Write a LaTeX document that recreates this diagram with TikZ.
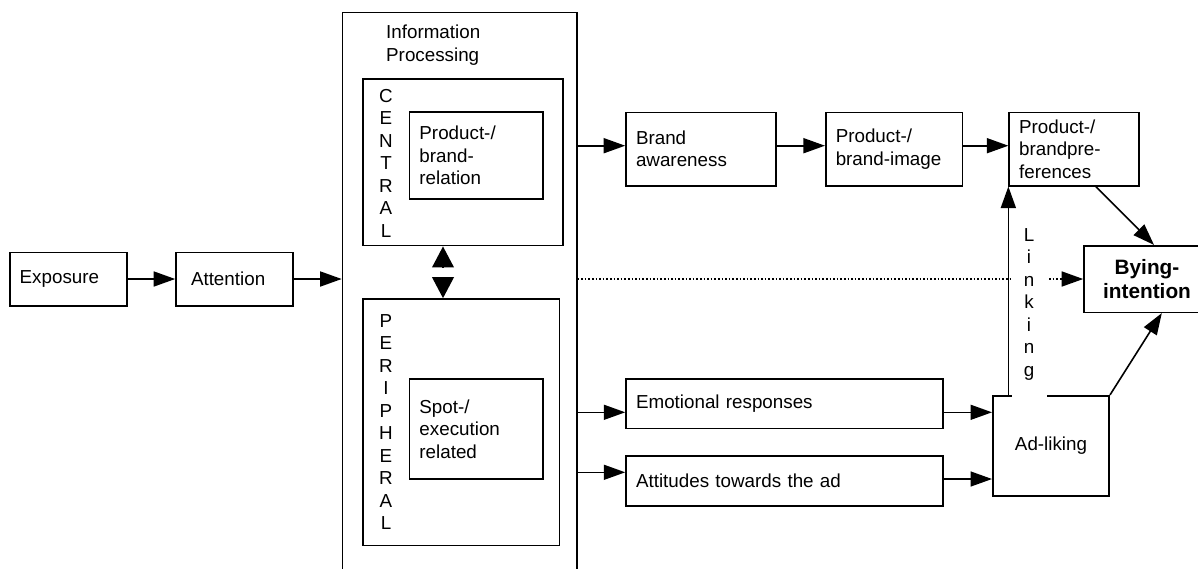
\documentclass[tikz,border=0pt]{standalone}
\usepackage{fontspec}
\setmainfont{Liberation Sans}
\usetikzlibrary{arrows.meta}

\begin{document}
\begin{tikzpicture}[
    x=1pt, y=-1pt,
    every node/.style={font=\fontsize{18.8}{22.5}\selectfont},
    box/.style={draw, line width=1.6pt, inner xsep=10pt, inner ysep=0pt, align=left},
    letters/.style={align=center, inner sep=0pt},
    arr/.style={line width=1.6pt, -{Triangle[length=21.5pt, width=15pt]}},
    bigtip/.style={line width=1.6pt, -{Triangle[length=21pt, width=21.7pt]}}
]

  \useasboundingbox (0,0) rectangle (1198,568);
  \clip (0,0) rectangle (1198,568);

  % left part
  \node[box, text width=97pt, minimum height=53.4pt] (expo) at (68.2,279) {Exposure};
  \node[box, inner xsep=15pt, text width=87pt, minimum height=53.4pt] (atten) at (234.5,279) {Attention};

  % information processing
  \node[box, minimum width=234.2pt, minimum height=567.4pt] (infoproc) at (459.6,296) {};
  \node[anchor=west, align=left, inner sep=0pt] (infotitle) at (386,45) {Information\\Processing};
  \node[box, minimum width=200.5pt, minimum height=166.7pt] (central) at (463,162.3) {};
  \node[letters] (centlbl) at (386,163) {C\\E\\N\\T\\R\\A\\L};
  \node[box, text width=113.5pt, minimum height=87pt] (prodrel) at (476.2,155.5) {Product-/\\brand-\\relation};
  \node[box, minimum width=196.7pt, minimum height=246.7pt] (periph) at (461.2,422.3) {};
  \node[letters] (periphlbl) at (386,422) {P\\E\\R\\I\\P\\H\\E\\R\\A\\L};
  \node[box, text width=113.5pt, minimum height=100pt] (spot) at (476.2,429) {Spot-/\\execution\\related};
  \coordinate (dmid) at (443,272.2);

  % upper row
  \node[box, text width=129.8pt, minimum height=73.4pt] (brandaw) at (700.9,149) {Brand\\awareness};
  \node[box, text width=116.9pt, minimum height=73.4pt] (brandimg) at (894.2,149) {Product-/\\brand-image};
  \node[box, text width=110.1pt, minimum height=73.4pt] (brandpref) at (1074.2,149) {Product-/\\brandpre-\\ferences};
  \node[box, align=center, font=\bfseries\fontsize{20.8}{23.3}\selectfont,
        minimum width=126pt, minimum height=66.6pt] (bying) at (1147,279) {Bying-\\intention};

  % lower row
  \node[box, text width=296.9pt, minimum height=49.7pt] (emot) at (784.5,403.8) {Emotional responses};
  \node[box, text width=296.9pt, minimum height=50pt] (attit) at (784.5,480.7) {Attitudes towards the ad};
  \node[box, align=center, minimum width=116.4pt, minimum height=100pt] (adlik) at (1051,445.7) {Ad-liking};

  % arrows
  \draw[arr] (expo) -- (atten);
  \draw[arr] (atten) -- (atten -| infoproc.west);
  \draw[bigtip, shorten <=5.5pt] (dmid) -- (central.south -| dmid);
  \draw[bigtip, shorten <=5.5pt] (dmid) -- (periph.north -| dmid);
  \draw[arr] ([yshift=3.3pt]brandaw.west -| infoproc.east) -- ([yshift=3.3pt]brandaw.west);
  \draw[arr] ([yshift=3.3pt]brandaw.east) -- ([yshift=3.3pt]brandimg.west);
  \draw[arr] ([yshift=3.3pt]brandimg.east) -- ([yshift=3.3pt]brandpref.west);
  \draw[arr] ([xshift=21.6pt]brandpref.south) -- ([xshift=7pt]bying.north);
  \draw[arr, dotted] (infoproc.east |- bying.west) -- (bying.west);
  \draw[arr] ([yshift=-8.5pt]emot.west -| infoproc.east) -- ([yshift=-8.5pt]emot.west);
  \draw[arr] ([yshift=8.4pt]attit.west -| infoproc.east) -- ([yshift=8.4pt]attit.west);
  \draw[arr] ([yshift=-8.5pt]emot.east) -- ([yshift=-8.5pt]emot.east -| adlik.west);
  \draw[arr] ([yshift=1.7pt]attit.east) -- ([yshift=1.7pt]attit.east -| adlik.west);
  \draw[arr] (adlik.north -| brandpref.south west) -- (brandpref.south west);
  \draw[arr] (adlik.north east) -- ([xshift=14.8pt]bying.south);

  % label over the linking arrow
  \node[letters, fill=white, minimum width=35pt, minimum height=186pt] (linklbl) at (1029,304) {L\\i\\n\\k\\i\\n\\g};
\end{tikzpicture}
\end{document}
